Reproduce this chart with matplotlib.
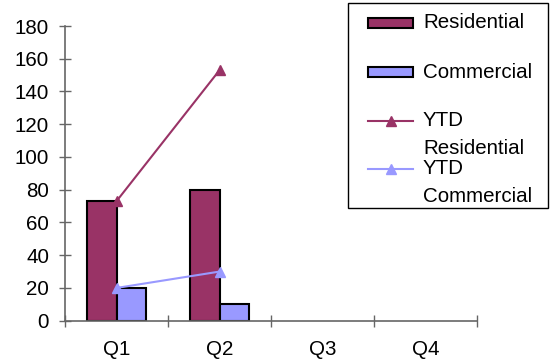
import matplotlib
matplotlib.use("Agg")
import matplotlib.pyplot as plt
from matplotlib.patches import Rectangle
from matplotlib.lines import Line2D
import numpy as np

plt.rcParams['font.family'] = ['Liberation Sans', 'DejaVu Sans']

categories = ["Q1", "Q2", "Q3", "Q4"]
residential = [73, 80, np.nan, np.nan]
commercial = [20, 10, np.nan, np.nan]
ytd_residential = [73, 153, np.nan, np.nan]
ytd_commercial = [20, 30, np.nan, np.nan]
yticks = [0, 20, 40, 60, 80, 100, 120, 140, 160, 180]

RES_C = "#993366"
COM_C = "#9999FF"
AX_C = "#666666"
FS = 14.8

W, H = 550, 363
fig = plt.figure(figsize=(W / 100, H / 100), dpi=100)

x0, x1 = 65, 477
y0, y1 = 320.7, 26
ax = fig.add_axes([x0 / W, 1 - y0 / H, (x1 - x0) / W, (y0 - y1) / H])

x = np.arange(len(categories))
bw = 0.29
ax.bar(x - bw / 2, residential, bw, color=RES_C, edgecolor="black", linewidth=1.5, zorder=2)
ax.bar(x + bw / 2, commercial, bw, color=COM_C, edgecolor="black", linewidth=1.5, zorder=2)
ax.plot(x, ytd_residential, color=RES_C, marker="^", markersize=7, linewidth=1.5, zorder=3, clip_on=False)
ax.plot(x, ytd_commercial, color=COM_C, marker="^", markersize=7, linewidth=1.5, zorder=3, clip_on=False)

ax.set_xlim(-0.5, len(categories) - 0.5)
ax.set_ylim(0, 180)
ax.set_yticks(yticks)
ax.set_yticklabels([str(v) for v in yticks], fontsize=FS)
ax.set_xticks(np.arange(len(categories) + 1) - 0.5)
ax.set_xticklabels([])
ax.set_xticks(x, minor=True)
ax.set_xticklabels(categories, minor=True, fontsize=FS)
ax.tick_params(axis="x", which="minor", length=0, pad=14)
ax.tick_params(axis="x", which="major", direction="inout", length=8, color=AX_C, width=1)
ax.tick_params(axis="y", direction="inout", length=9, color=AX_C, width=1, pad=7)

for s in ["top", "right"]:
    ax.spines[s].set_visible(False)
for s in ["left", "bottom"]:
    ax.spines[s].set_color(AX_C)
    ax.spines[s].set_linewidth(1.2)

# Legend drawn manually (pixel layout of the reference)
def fx(px):
    return px / W

def fy(py):
    return 1 - py / H

tf = fig.transFigure
fig.patches.append(Rectangle((fx(348), fy(208)), fx(548) - fx(348), fy(3) - fy(208),
                             transform=tf, facecolor="white", edgecolor="black", linewidth=1, zorder=5))

def patch_entry(yc, color, label):
    fig.patches.append(Rectangle((fx(368), fy(yc + 5)), fx(413) - fx(368), fy(yc - 5) - fy(yc + 5),
                                 transform=tf, facecolor=color, edgecolor="black", linewidth=1.5, zorder=6))
    fig.text(fx(423), fy(yc), label, fontsize=FS, va="center", ha="left", zorder=7)

def line_entry(yc, color, lines, y2):
    fig.lines.append(Line2D([fx(368), fx(413)], [fy(yc), fy(yc)], transform=tf, color=color,
                            linewidth=1.5, zorder=6))
    fig.lines.append(Line2D([fx(390.5)], [fy(yc)], transform=tf, color=color, marker="^",
                            markersize=7, linestyle="none", zorder=6))
    fig.text(fx(423), fy(yc), lines[0], fontsize=FS, va="center", ha="left", zorder=7)
    fig.text(fx(423), fy(y2), lines[1], fontsize=FS, va="center", ha="left", zorder=7)

patch_entry(23, RES_C, "Residential")
patch_entry(72, COM_C, "Commercial")
line_entry(121, RES_C, ["YTD", "Residential"], 148)
line_entry(169, COM_C, ["YTD", "Commercial"], 196)

fig.savefig("out.png", dpi=100)
